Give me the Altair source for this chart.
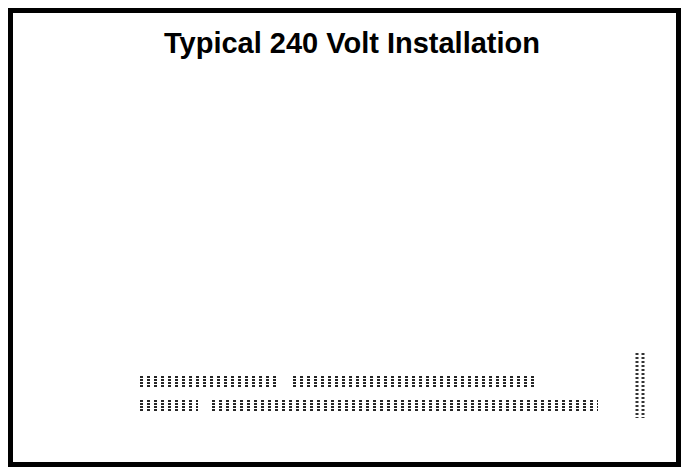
import altair as alt
import pandas as pd

# Title text
title_text = ["Typical 240 Volt Installation"]
title_x = [352]
title_y = [53]

# Illegible (dithered) label bands, in image pixel coordinates
band_x1 = [140, 293, 140, 212]
band_x2 = [277, 535, 198, 598]
band_y = [381, 381, 405, 405]

# Vertical dotted strip
strip_x = [637, 643]
strip_y1 = [353, 353]
strip_y2 = [418, 418]

title_df = pd.DataFrame({"t": title_text, "x": title_x, "y": title_y})
band_rows = []
for a, b, y in zip(band_x1, band_x2, band_y):
    for dy in (-4, -1, 2, 5):
        band_rows.append({"x1": a, "x2": b, "y": y + dy})
band_df = pd.DataFrame(band_rows)
strip_df = pd.DataFrame({"x": strip_x, "y1": strip_y1, "y2": strip_y2})

xs = alt.Scale(domain=[8, 681])
ys = alt.Scale(domain=[8, 467], reverse=True)

title = alt.Chart(title_df).mark_text(
    font="Liberation Sans", fontWeight="bold", fontSize=29, color="black",
    baseline="alphabetic", align="center"
).encode(
    x=alt.X("x:Q", scale=xs, axis=None),
    y=alt.Y("y:Q", scale=ys, axis=None),
    text="t:N",
)

bands = alt.Chart(band_df).mark_rule(
    color="black", strokeWidth=2, strokeDash=[3, 4], opacity=0.85
).encode(
    x=alt.X("x1:Q", scale=xs, axis=None),
    x2="x2:Q",
    y=alt.Y("y:Q", scale=ys, axis=None),
)

strip = alt.Chart(strip_df).mark_rule(
    color="black", strokeWidth=3, strokeDash=[2, 2], opacity=0.8
).encode(
    x=alt.X("x:Q", scale=xs, axis=None),
    y=alt.Y("y1:Q", scale=ys, axis=None),
    y2="y2:Q",
)

chart = alt.layer(title, bands, strip).properties(
    width=673, height=459, padding=0, autosize=alt.AutoSizeParams(type="none")
).configure(background="white").configure_view(
    stroke="black", strokeWidth=10, fill="white", strokeOpacity=1
)

chart.save("out.html", embed_options={"renderer": "svg", "actions": False})
